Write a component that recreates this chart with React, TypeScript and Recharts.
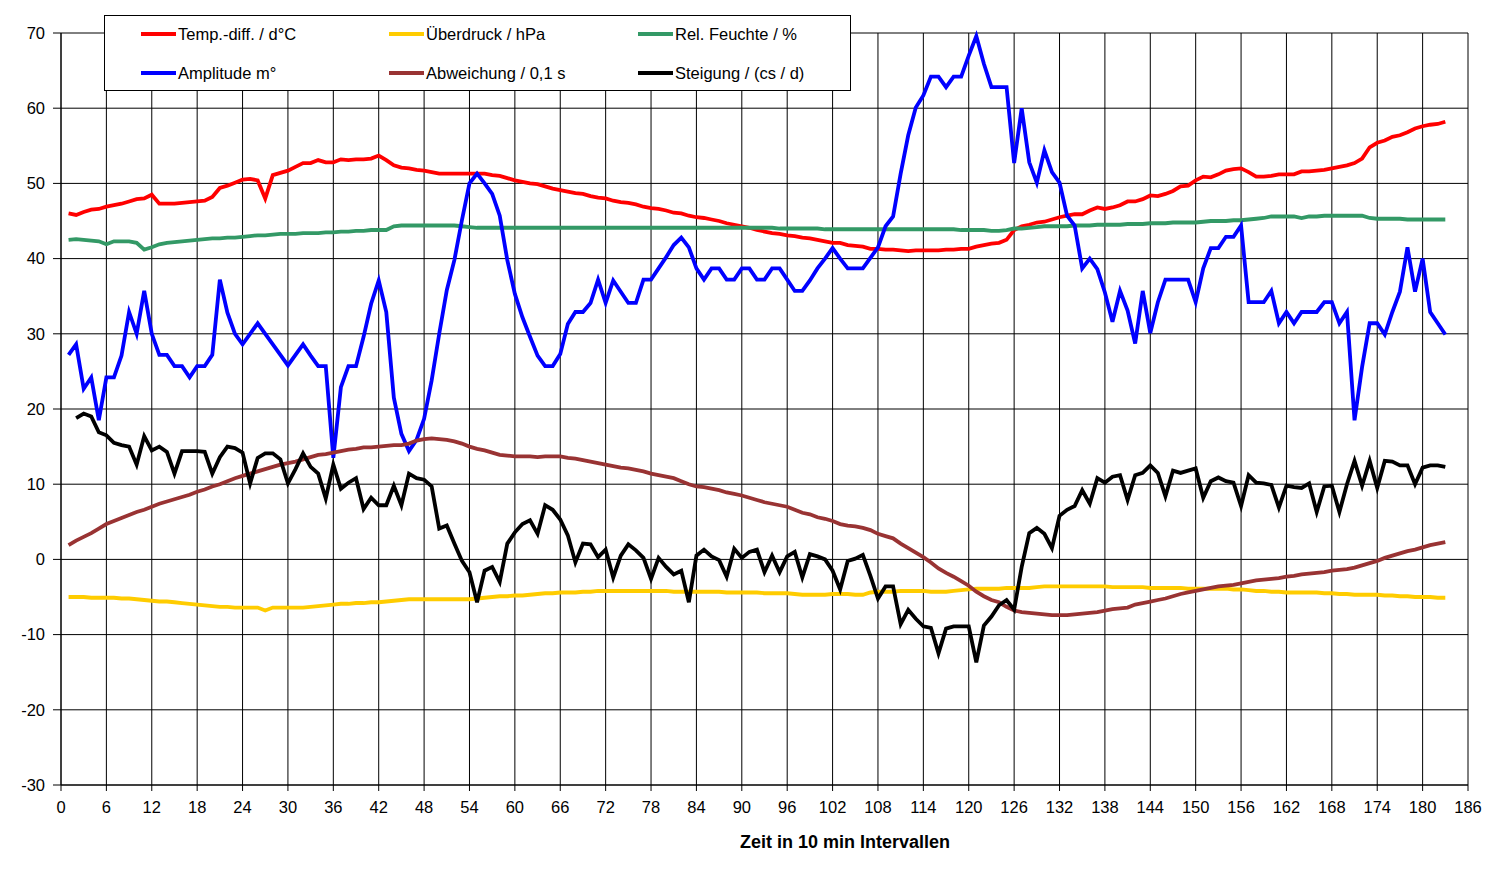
import { CartesianGrid, Line, LineChart, XAxis, YAxis } from "recharts";

// Zeitachse: Messpunkte 1..183 (10-min-Intervalle)
const tempDiff = [
  46.0, 45.8, 46.2, 46.5, 46.6, 46.9, 47.1, 47.3, 47.6, 47.9,
  48.0, 48.5, 47.3, 47.3, 47.3, 47.4, 47.5, 47.6, 47.7, 48.2,
  49.4, 49.7, 50.1, 50.5, 50.6, 50.4, 48.0, 51.1, 51.4, 51.7,
  52.2, 52.7, 52.7, 53.1, 52.8, 52.8, 53.2, 53.1, 53.2, 53.2,
  53.3, 53.7, 53.1, 52.4, 52.1, 52.0, 51.8, 51.7, 51.5, 51.3,
  51.3, 51.3, 51.3, 51.3, 51.3, 51.3, 51.1, 51.0, 50.7, 50.4,
  50.2, 50.0, 49.9, 49.6, 49.3, 49.1, 48.9, 48.7, 48.6, 48.3,
  48.1, 48.0, 47.7, 47.5, 47.4, 47.2, 46.9, 46.7, 46.6, 46.4,
  46.1, 46.0, 45.7, 45.5, 45.4, 45.2, 45.0, 44.7, 44.5, 44.3,
  44.1, 43.8, 43.6, 43.4, 43.3, 43.1, 43.0, 42.8, 42.7, 42.5,
  42.3, 42.1, 42.1, 41.8, 41.7, 41.6, 41.3, 41.3, 41.2, 41.2,
  41.1, 41.0, 41.1, 41.1, 41.1, 41.1, 41.2, 41.2, 41.3, 41.3,
  41.6, 41.8, 42.0, 42.1, 42.5, 43.8, 44.3, 44.5, 44.8, 44.9,
  45.2, 45.5, 45.7, 45.9, 45.9, 46.4, 46.8, 46.6, 46.8, 47.1,
  47.6, 47.6, 47.9, 48.4, 48.3, 48.6, 49.0, 49.6, 49.7, 50.4,
  50.9, 50.8, 51.2, 51.7, 51.9, 52.0, 51.5, 50.9, 50.9, 51.0,
  51.2, 51.2, 51.2, 51.6, 51.6, 51.7, 51.8, 52.0, 52.2, 52.4,
  52.7, 53.3, 54.8, 55.4, 55.7, 56.2, 56.4, 56.8, 57.3, 57.6,
  57.8, 57.9, 58.2,
];

const ueberdruck = [
  -5.0, -5.0, -5.0, -5.1, -5.1, -5.1, -5.1, -5.2, -5.2, -5.3,
  -5.4, -5.5, -5.6, -5.6, -5.7, -5.8, -5.9, -6.0, -6.1, -6.2,
  -6.3, -6.3, -6.4, -6.4, -6.4, -6.4, -6.8, -6.4, -6.4, -6.4,
  -6.4, -6.4, -6.3, -6.2, -6.1, -6.0, -5.9, -5.9, -5.8, -5.8,
  -5.7, -5.7, -5.6, -5.5, -5.4, -5.3, -5.3, -5.3, -5.3, -5.3,
  -5.3, -5.3, -5.3, -5.3, -5.2, -5.1, -5.0, -4.9, -4.9, -4.8,
  -4.8, -4.7, -4.6, -4.5, -4.5, -4.4, -4.4, -4.4, -4.3, -4.3,
  -4.2, -4.2, -4.2, -4.2, -4.2, -4.2, -4.2, -4.2, -4.2, -4.2,
  -4.3, -4.3, -4.3, -4.3, -4.3, -4.3, -4.3, -4.4, -4.4, -4.4,
  -4.4, -4.4, -4.5, -4.5, -4.5, -4.5, -4.6, -4.7, -4.7, -4.7,
  -4.7, -4.6, -4.6, -4.6, -4.7, -4.7, -4.4, -4.3, -4.3, -4.3,
  -4.2, -4.2, -4.2, -4.2, -4.3, -4.3, -4.3, -4.2, -4.1, -4.0,
  -3.9, -3.9, -3.9, -3.9, -3.8, -3.8, -3.8, -3.8, -3.7, -3.6,
  -3.6, -3.6, -3.6, -3.6, -3.6, -3.6, -3.6, -3.6, -3.7, -3.7,
  -3.7, -3.7, -3.7, -3.8, -3.8, -3.8, -3.8, -3.8, -3.9, -3.9,
  -3.9, -3.9, -3.9, -3.9, -4.0, -4.0, -4.1, -4.2, -4.2, -4.3,
  -4.3, -4.4, -4.4, -4.4, -4.4, -4.4, -4.5, -4.5, -4.6, -4.6,
  -4.7, -4.7, -4.7, -4.7, -4.8, -4.8, -4.9, -4.9, -5.0, -5.0,
  -5.0, -5.1, -5.1,
];

const feuchte = [
  42.5, 42.6, 42.5, 42.4, 42.3, 41.9, 42.3, 42.3, 42.3, 42.1,
  41.2, 41.5, 41.9, 42.1, 42.2, 42.3, 42.4, 42.5, 42.6, 42.7,
  42.7, 42.8, 42.8, 42.9, 43.0, 43.1, 43.1, 43.2, 43.3, 43.3,
  43.3, 43.4, 43.4, 43.4, 43.5, 43.5, 43.6, 43.6, 43.7, 43.7,
  43.8, 43.8, 43.8, 44.3, 44.4, 44.4, 44.4, 44.4, 44.4, 44.4,
  44.4, 44.4, 44.3, 44.2, 44.1, 44.1, 44.1, 44.1, 44.1, 44.1,
  44.1, 44.1, 44.1, 44.1, 44.1, 44.1, 44.1, 44.1, 44.1, 44.1,
  44.1, 44.1, 44.1, 44.1, 44.1, 44.1, 44.1, 44.1, 44.1, 44.1,
  44.1, 44.1, 44.1, 44.1, 44.1, 44.1, 44.1, 44.1, 44.1, 44.1,
  44.1, 44.1, 44.1, 44.1, 44.0, 44.0, 44.0, 44.0, 44.0, 44.0,
  43.9, 43.9, 43.9, 43.9, 43.9, 43.9, 43.9, 43.9, 43.9, 43.9,
  43.9, 43.9, 43.9, 43.9, 43.9, 43.9, 43.9, 43.9, 43.8, 43.8,
  43.8, 43.8, 43.7, 43.7, 43.8, 44.0, 44.0, 44.1, 44.2, 44.3,
  44.3, 44.3, 44.3, 44.4, 44.4, 44.4, 44.5, 44.5, 44.5, 44.5,
  44.6, 44.6, 44.6, 44.7, 44.7, 44.7, 44.8, 44.8, 44.8, 44.8,
  44.9, 45.0, 45.0, 45.0, 45.1, 45.1, 45.2, 45.3, 45.4, 45.6,
  45.6, 45.6, 45.6, 45.4, 45.6, 45.6, 45.7, 45.7, 45.7, 45.7,
  45.7, 45.7, 45.4, 45.3, 45.3, 45.3, 45.3, 45.2, 45.2, 45.2,
  45.2, 45.2, 45.2,
];

const amplitude = [
  27.2, 28.6, 22.7, 24.2, 18.5, 24.2, 24.2, 27.1, 32.9, 30.0,
  35.7, 30.0, 27.2, 27.2, 25.7, 25.7, 24.2, 25.7, 25.7, 27.2,
  37.2, 32.8, 30.0, 28.6, 30.0, 31.4, 30.0, 28.6, 27.2, 25.8,
  27.2, 28.6, 27.1, 25.7, 25.7, 13.5, 22.9, 25.7, 25.7, 29.6,
  34.0, 37.1, 32.9, 21.5, 16.7, 14.4, 15.9, 18.7, 23.8, 30.0,
  35.8, 39.8, 45.1, 50.0, 51.3, 50.0, 48.6, 45.7, 39.8, 35.3,
  32.2, 29.6, 27.1, 25.7, 25.7, 27.3, 31.3, 32.9, 32.9, 34.1,
  37.2, 34.1, 37.1, 35.6, 34.1, 34.1, 37.2, 37.2, 38.7, 40.2,
  41.8, 42.8, 41.5, 38.7, 37.2, 38.7, 38.7, 37.2, 37.2, 38.7,
  38.7, 37.2, 37.2, 38.7, 38.7, 37.2, 35.7, 35.7, 37.1, 38.7,
  40.0, 41.4, 40.0, 38.7, 38.7, 38.7, 40.1, 41.5, 44.3, 45.6,
  51.3, 56.4, 60.1, 61.7, 64.2, 64.2, 62.8, 64.2, 64.2, 67.0,
  69.6, 65.9, 62.8, 62.8, 62.8, 52.7, 60.0, 52.8, 50.1, 54.4,
  51.5, 50.1, 45.7, 44.4, 38.7, 40.0, 38.6, 35.5, 31.6, 35.7,
  33.1, 28.7, 35.7, 30.1, 34.2, 37.2, 37.2, 37.2, 37.2, 34.2,
  38.7, 41.4, 41.4, 42.9, 42.9, 44.4, 34.2, 34.2, 34.2, 35.7,
  31.4, 32.9, 31.4, 32.9, 32.9, 32.9, 34.2, 34.2, 31.4, 32.9,
  18.5, 25.6, 31.4, 31.4, 29.9, 32.9, 35.6, 41.5, 35.6, 40.0,
  32.9, 31.4, 29.9,
];

const abweichung = [
  1.9, 2.5, 3.0, 3.5, 4.1, 4.7, 5.1, 5.5, 5.9, 6.3,
  6.6, 7.0, 7.4, 7.7, 8.0, 8.3, 8.6, 9.0, 9.3, 9.7,
  10.0, 10.4, 10.8, 11.1, 11.4, 11.7, 12.0, 12.3, 12.6, 12.8,
  13.0, 13.3, 13.6, 13.9, 14.0, 14.2, 14.4, 14.6, 14.7, 14.9,
  14.9, 15.0, 15.1, 15.2, 15.2, 15.4, 15.8, 16.0, 16.1, 16.0,
  15.9, 15.7, 15.4, 15.0, 14.7, 14.5, 14.2, 13.9, 13.8, 13.7,
  13.7, 13.7, 13.6, 13.7, 13.7, 13.7, 13.5, 13.4, 13.2, 13.0,
  12.8, 12.6, 12.4, 12.2, 12.1, 11.9, 11.7, 11.4, 11.2, 11.0,
  10.8, 10.4, 10.0, 9.7, 9.6, 9.4, 9.2, 8.9, 8.7, 8.5,
  8.2, 7.9, 7.6, 7.4, 7.2, 7.0, 6.6, 6.2, 6.0, 5.6,
  5.4, 5.1, 4.7, 4.5, 4.4, 4.2, 3.9, 3.4, 3.1, 2.8,
  2.1, 1.5, 0.9, 0.3, -0.4, -1.2, -1.8, -2.3, -2.9, -3.5,
  -4.3, -4.9, -5.4, -5.7, -6.3, -6.8, -7.0, -7.1, -7.2, -7.3,
  -7.4, -7.4, -7.4, -7.3, -7.2, -7.1, -7.0, -6.8, -6.6, -6.5,
  -6.4, -6.0, -5.8, -5.6, -5.4, -5.2, -4.9, -4.6, -4.4, -4.2,
  -4.0, -3.8, -3.6, -3.5, -3.4, -3.2, -3.0, -2.8, -2.7, -2.6,
  -2.5, -2.3, -2.2, -2.0, -1.9, -1.8, -1.7, -1.5, -1.4, -1.3,
  -1.1, -0.8, -0.5, -0.2, 0.2, 0.5, 0.8, 1.1, 1.3, 1.6,
  1.9, 2.1, 2.3,
];

const steigung = [
  null, 18.8, 19.4, 19.0, 16.9, 16.5, 15.5, 15.2, 15.0, 12.6,
  16.4, 14.5, 15.0, 14.3, 11.4, 14.4, 14.4, 14.4, 14.3, 11.4,
  13.6, 15.0, 14.8, 14.2, 10.1, 13.5, 14.1, 14.1, 13.3, 10.1,
  12.0, 14.1, 12.3, 11.4, 8.1, 12.6, 9.4, 10.2, 10.8, 6.7,
  8.2, 7.2, 7.2, 9.8, 7.2, 11.4, 10.8, 10.6, 9.7, 4.1,
  4.5, 2.1, -0.2, -1.7, -5.7, -1.5, -1.0, -3.0, 2.1, 3.6,
  4.7, 5.2, 3.4, 7.2, 6.6, 5.3, 3.2, -0.4, 2.1, 2.0,
  0.3, 1.3, -2.4, 0.5, 2.0, 1.2, 0.2, -2.6, 0.2, -1.0,
  -2.0, -1.5, -5.7, 0.5, 1.3, 0.4, -0.1, -2.3, 1.4, 0.2,
  1.0, 1.3, -1.7, 0.5, -1.7, 0.4, 1.0, -2.4, 0.7, 0.4,
  0.0, -1.5, -4.0, -0.2, 0.1, 0.6, -2.2, -5.2, -3.6, -3.6,
  -8.6, -6.7, -7.9, -8.9, -9.1, -12.5, -9.2, -8.9, -8.9, -8.9,
  -13.7, -8.8, -7.6, -6.1, -5.4, -6.7, -1.0, 3.5, 4.2, 3.4,
  1.5, 5.8, 6.6, 7.1, 9.2, 7.4, 10.8, 10.2, 11.0, 11.2,
  7.9, 11.2, 11.5, 12.5, 11.5, 8.4, 11.8, 11.5, 11.8, 12.1,
  8.2, 10.4, 10.9, 10.4, 10.2, 7.1, 11.2, 10.2, 10.1, 9.9,
  6.9, 9.8, 9.6, 9.5, 10.1, 6.3, 9.7, 9.8, 6.3, 10.0,
  13.1, 9.8, 13.1, 9.5, 13.1, 13.0, 12.5, 12.5, 10.0, 12.2,
  12.5, 12.5, 12.3,
];

const xTicks = [
  0, 6, 12, 18, 24, 30, 36, 42, 48, 54, 60, 66, 72, 78, 84, 90,
  96, 102, 108, 114, 120, 126, 132, 138, 144, 150, 156, 162, 168, 174, 180, 186,
];
const yTicks = [-30, -20, -10, 0, 10, 20, 30, 40, 50, 60, 70];

const series = [
  { key: "temp", name: "Temp.-diff. / d°C", color: "#ff0000", values: tempDiff },
  { key: "druck", name: "Überdruck / hPa", color: "#ffcc00", values: ueberdruck },
  { key: "feuchte", name: "Rel. Feuchte / %", color: "#339966", values: feuchte },
  { key: "amp", name: "Amplitude m°", color: "#0000ff", values: amplitude },
  { key: "abw", name: "Abweichung / 0,1 s", color: "#993333", values: abweichung },
  { key: "steig", name: "Steigung / (cs / d)", color: "#000000", values: steigung },
];

const data = tempDiff.map((_, i) => {
  const row: Record<string, number | null> = { t: i + 1 };
  series.forEach((s) => {
    row[s.key] = s.values[i];
  });
  return row;
});

const FONT = '"Liberation Sans", Arial, sans-serif';
const legendCols = [36, 284, 533];
const legendRows = [18, 57];

function LegendBox() {
  return (
    <div
      style={{
        position: "absolute",
        left: 104,
        top: 15,
        width: 747,
        height: 76,
        boxSizing: "border-box",
        border: "1px solid #000",
        background: "#fff",
        fontFamily: FONT,
        fontSize: 16.5,
        color: "#000",
      }}
    >
      {series.map((s, i) => (
        <div
          key={s.key}
          style={{
            position: "absolute",
            left: legendCols[i % 3],
            top: legendRows[Math.floor(i / 3)] - 10,
            height: 20,
            display: "flex",
            alignItems: "center",
            whiteSpace: "nowrap",
          }}
        >
          <span style={{ display: "inline-block", width: 35, height: 4, background: s.color }} />
          <span style={{ marginLeft: 2 }}>{s.name}</span>
        </div>
      ))}
    </div>
  );
}

export default function App() {
  return (
    <div style={{ position: "absolute", left: 0, top: 0, width: 1500, height: 883, background: "#fff" }}>
      <LineChart width={1500} height={883} data={data} margin={{ top: 33, right: 32, bottom: 68, left: 0 }}>
        <CartesianGrid stroke="#000" strokeWidth={1} />
        <XAxis
          type="number"
          dataKey="t"
          domain={[0, 186]}
          ticks={xTicks}
          interval={0}
          height={30}
          tickSize={6}
          tickMargin={10}
          stroke="#000"
          tick={{ fill: "#000", fontSize: 16.5, fontFamily: FONT }}
        />
        <YAxis
          type="number"
          domain={[-30, 70]}
          ticks={yTicks}
          interval={0}
          width={61}
          tickSize={8}
          tickMargin={8}
          stroke="#000"
          tick={{ fill: "#000", fontSize: 16.5, fontFamily: FONT }}
        />
        {series.map((s) => (
          <Line
            key={s.key}
            type="linear"
            dataKey={s.key}
            stroke={s.color}
            strokeWidth={3.8}
            dot={false}
            activeDot={false}
            isAnimationActive={false}
          />
        ))}
      </LineChart>
      <LegendBox />
      <div
        style={{
          position: "absolute",
          left: 645,
          top: 832,
          width: 400,
          textAlign: "center",
          fontFamily: FONT,
          fontSize: 18,
          fontWeight: "bold",
          color: "#000",
        }}
      >
        Zeit in 10 min Intervallen
      </div>
    </div>
  );
}
